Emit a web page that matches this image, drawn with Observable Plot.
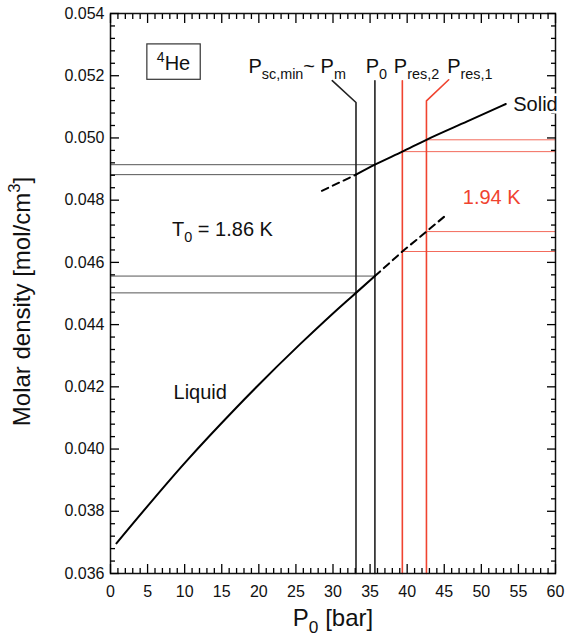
<!DOCTYPE html>
<html><head><meta charset="utf-8">
<script src="https://cdn.jsdelivr.net/npm/d3@7"></script>
<script src="https://cdn.jsdelivr.net/npm/@observablehq/plot@0.6"></script>
<style>body{margin:0;background:#fff} svg{display:block}</style>
</head><body><div id="chart"></div>
<script>
// ---- data (pressure in bar, molar density in mol/cm^3) ----
const liquidP = [0.8, 10.3, 16.6, 25.6, 31.9, 33.1, 35.65];
const liquidV = [0.03697, 0.03963, 0.04124, 0.04338, 0.04477, 0.04502, 0.04556];
const liquidExtP = [35.65, 39.35, 42.6, 45.4];
const liquidExtV = [0.04556, 0.04635, 0.04699, 0.04755];
const solidExtP = [28.5, 33.1];
const solidExtV = [0.04830, 0.04882];
const solidP = [33.1, 35.65, 39.35, 42.6, 48.1, 53.3];
const solidV = [0.04882, 0.04914, 0.04956, 0.04994, 0.05053, 0.05109];

const pressureNames = ["Psc,min", "P0", "Pres,2", "Pres,1"];
const pressureValues = [33.1, 35.65, 39.35, 42.6];

const pscGuideP = [33.1, 33.1, 29.9];
const pscGuideV = [0.036, 0.05114, 0.05184];
const p0GuideP = [35.65, 35.65];
const p0GuideV = [0.036, 0.05184];
const pres2GuideP = [39.35, 39.35];
const pres2GuideV = [0.036, 0.05184];
const pres1GuideP = [42.6, 42.6, 45.6];
const pres1GuideV = [0.036, 0.05119, 0.05187];

const levelsAtPsc = [0.04882, 0.04502];
const levelsAtP0 = [0.04914, 0.04556];
const levelsAtPres2 = [0.04956, 0.04635];
const levelsAtPres1 = [0.04994, 0.04699];

const xTicks = [0, 5, 10, 15, 20, 25, 30, 35, 40, 45, 50, 55, 60];
const yTicks = [0.036, 0.038, 0.040, 0.042, 0.044, 0.046, 0.048, 0.050, 0.052, 0.054];
const xMinorTicks = d3.range(0, 61, 1).filter(v => v % 5 !== 0);
const yMinorTicks = d3.range(0, 46).filter(i => i % 5 !== 0).map(i => 0.036 + i * 0.0004);

const startLabels = ["P_{sc,min}~ P_{m}", "P_{0}", "P_{res,2}", "P_{res,1}", "T_{0} = 1.86 K"];
const startLabelP = [18.6, 34.4, 38.2, 45.4, 8.3];
const startLabelV = [0.05229, 0.05229, 0.05229, 0.05229, 0.04707];
const solidLabel = ["Solid"];
const solidLabelP = [54.3];
const solidLabelV = [0.05107];
const middleLabels = ["^{4}He", "Liquid"];
const middleLabelP = [8.5, 12.1];
const middleLabelV = [0.05238, 0.04182];
const redLabels = ["1.94 K"];
const redLabelP = [47.5];
const redLabelV = [0.04809];

const xTitle = "P_{0} [bar]";
const yTitle = "Molar density [mol/cm^{3}]";

const RED = "#f0432f";
const RED_LIGHT = "#f36b5c";

const W = 565, H = 639, ML = 110, MR = 10, MT = 13, MB = 66;
const MAJOR = 9, MINOR = 5;

const line = (P, V, o) => Plot.line(P.map((p, i) => ({p, v: V[i]})), {x: "p", y: "v", ...o});
const noText = () => "";
const tk = {tickFormat: noText, label: null, strokeWidth: 1.3, stroke: "#000"};

const svg = Plot.plot({
  width: W, height: H,
  marginLeft: ML, marginRight: MR, marginTop: MT, marginBottom: MB,
  x: {domain: [0, 60]},
  y: {domain: [0.036, 0.054]},
  style: {fontFamily: "'Liberation Sans', Arial, sans-serif", background: "white", color: "#111"},
  marks: [
    // horizontal guide lines
    Plot.ruleY(levelsAtPsc, {y: d => d, x1: () => 0, x2: () => pressureValues[0], stroke: "#555", strokeWidth: 1}),
    Plot.ruleY(levelsAtP0, {y: d => d, x1: () => 0, x2: () => pressureValues[1], stroke: "#555", strokeWidth: 1}),
    Plot.ruleY(levelsAtPres2, {y: d => d, x1: () => pressureValues[2], x2: () => 60, stroke: RED_LIGHT, strokeWidth: 1}),
    Plot.ruleY(levelsAtPres1, {y: d => d, x1: () => pressureValues[3], x2: () => 60, stroke: RED_LIGHT, strokeWidth: 1}),
    // vertical guide lines
    line(pscGuideP, pscGuideV, {stroke: "#222", strokeWidth: 1.6}),
    line(p0GuideP, p0GuideV, {stroke: "#222", strokeWidth: 1.6}),
    line(pres2GuideP, pres2GuideV, {stroke: RED, strokeWidth: 1.6}),
    line(pres1GuideP, pres1GuideV, {stroke: RED, strokeWidth: 1.6}),
    // curves
    line(liquidP, liquidV, {stroke: "#000", strokeWidth: 2, curve: "monotone-x"}),
    line(liquidExtP, liquidExtV, {stroke: "#000", strokeWidth: 2, strokeDasharray: "7,5"}),
    line(solidExtP, solidExtV, {stroke: "#000", strokeWidth: 2, strokeDasharray: "7,5"}),
    line(solidP, solidV, {stroke: "#000", strokeWidth: 2, curve: "monotone-x"}),
    // tick labels
    Plot.axisX(xTicks, {anchor: "bottom", tickSize: 0, tickPadding: 12, fontSize: 16, label: null, tickFormat: d => String(d)}),
    Plot.axisY(yTicks, {anchor: "left", tickSize: 0, tickPadding: 6, fontSize: 16, label: null, tickFormat: d3.format(".3f")}),
    Plot.frame({stroke: "#111", strokeWidth: 1.5}),
    // annotations
    Plot.text(startLabels, {x: (d, i) => startLabelP[i], y: (d, i) => startLabelV[i], text: d => d, textAnchor: "start", fontSize: 20, fill: "#111"}),
    Plot.text(middleLabels, {x: (d, i) => middleLabelP[i], y: (d, i) => middleLabelV[i], text: d => d, textAnchor: "middle", fontSize: 20, fill: "#111"}),
    Plot.text(redLabels, {x: (d, i) => redLabelP[i], y: (d, i) => redLabelV[i], text: d => d, textAnchor: "start", fontSize: 20, fill: RED}),
    // axis titles
    Plot.text([xTitle], {frameAnchor: "bottom", textAnchor: "middle", dy: 52, text: d => d, fontSize: 24, fill: "#111"}),
    Plot.text([yTitle], {frameAnchor: "left", textAnchor: "middle", dx: -88, dy: 8, rotate: -90, text: d => d, fontSize: 24, fill: "#111"}),
    // inward ticks on all four sides (outward axis ticks shifted inside the frame), drawn last
    Plot.axisX(xMinorTicks, {anchor: "bottom", tickSize: MINOR, dy: -MINOR, ...tk}),
    Plot.axisX(xTicks, {anchor: "bottom", tickSize: MAJOR, dy: -MAJOR, ...tk}),
    Plot.axisX(xMinorTicks, {anchor: "top", tickSize: MINOR, dy: MINOR, ...tk}),
    Plot.axisX(xTicks, {anchor: "top", tickSize: MAJOR, dy: MAJOR, ...tk}),
    Plot.axisY(yMinorTicks, {anchor: "left", tickSize: MINOR, dx: MINOR, ...tk}),
    Plot.axisY(yTicks, {anchor: "left", tickSize: MAJOR, dx: MAJOR, ...tk}),
    Plot.axisY(yMinorTicks, {anchor: "right", tickSize: MINOR, dx: -MINOR, ...tk}),
    Plot.axisY(yTicks, {anchor: "right", tickSize: MAJOR, dx: -MAJOR, ...tk}),
    // "Solid" label over the right frame edge (white halo hides the frame behind it)
    Plot.text(solidLabel, {x: (d, i) => solidLabelP[i], y: (d, i) => solidLabelV[i], text: d => d, textAnchor: "start", fontSize: 20, fill: "#111", stroke: "white", strokeWidth: 5})
  ]
});
document.getElementById("chart").appendChild(svg);

const NS = "http://www.w3.org/2000/svg";

// rich text: _{sub} and ^{sup}
svg.querySelectorAll("text").forEach(t => {
  const s = t.textContent;
  if (!/[_^]\{/.test(s)) return;
  const fs = parseFloat(getComputedStyle(t).fontSize) || 16;
  t.textContent = "";
  const re = /([_^])\{([^}]*)\}|([^_^]+)/g;
  let m, shift = 0;
  while ((m = re.exec(s))) {
    const ts = document.createElementNS(NS, "tspan");
    let target = 0, size = null;
    if (m[1] === "_") { target = 0.3 * fs; size = 0.72 * fs; ts.textContent = m[2]; }
    else if (m[1] === "^") { target = -0.42 * fs; size = 0.7 * fs; ts.textContent = m[2]; }
    else ts.textContent = m[3];
    const dy = target - shift;
    if (dy) ts.setAttribute("dy", dy);
    shift = target;
    if (size) ts.setAttribute("font-size", size);
    t.appendChild(ts);
  }
});

// box around the isotope label
svg.querySelectorAll("text").forEach(t => {
  if (t.textContent === "4He") {
    const b = t.getBBox();
    const r = document.createElementNS(NS, "rect");
    r.setAttribute("x", b.x - 10);
    r.setAttribute("y", b.y - 5);
    r.setAttribute("width", b.width + 20);
    r.setAttribute("height", b.height + 10);
    r.setAttribute("fill", "none");
    r.setAttribute("stroke", "#333");
    r.setAttribute("stroke-width", 1.2);
    if (t.getAttribute("transform")) r.setAttribute("transform", t.getAttribute("transform"));
    t.parentNode.insertBefore(r, t);
  }
});
</script>
</body></html>
